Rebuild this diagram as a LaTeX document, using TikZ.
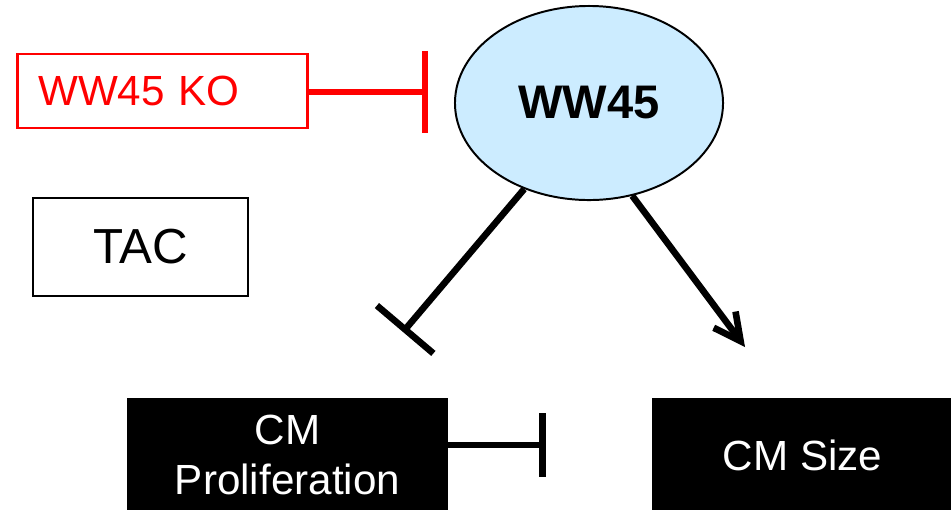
\documentclass[tikz,border=0pt]{standalone}
\usepackage{fontspec}
\setmainfont{Liberation Sans}
\usetikzlibrary{arrows.meta, shapes.geometric}
\definecolor{lightblue}{RGB}{204,236,255}

\begin{document}
\begin{tikzpicture}[
  x=0.025cm, y=-0.025cm,
  kobox/.style={draw=red, line width=2pt, text=red, inner sep=0, inner xsep=0.52cm,
    text width=6.21cm, align=left, minimum height=1.85cm, font=\fontsize{30}{36}\selectfont},
  tacbox/.style={draw, line width=1pt, inner sep=0, minimum width=5.375cm,
    minimum height=2.45cm, font=\fontsize{35}{42}\selectfont},
  gene/.style={draw, ellipse, fill=lightblue, line width=1.4pt, inner sep=0,
    minimum width=6.7cm, minimum height=4.85cm, font=\fontsize{33.5}{40}\bfseries},
  cmbox/.style={fill=black, text=white, inner sep=0, minimum height=2.85cm,
    align=center, font=\fontsize{30}{36}\selectfont},
  inhibit/.style={-{Bar[width=#1]}, line width=4.7pt},
  arrow/.style={-{Straight Barb[length=0.67cm, width=0.68cm]}, line width=4.7pt}
]
\useasboundingbox (0,0) rectangle (951,509);

\node[kobox, anchor=west] (ko) at (16,91) {WW45 KO};
\node[tacbox] (tac) at (140.5,247) {TAC};
\node[gene] (ww45) at (589,103) {WW45};
\node[cmbox, minimum width=8.025cm] (prolif) at (287.5,455) {CM\\Proliferation};
\node[cmbox, minimum width=7.5cm] (size) at (802.5,455) {CM Size};

\coordinate (koBar) at (428,92);
\coordinate (prolifBar) at (403,332);
\coordinate (sizeTip) at (745,347);
\coordinate (sizeBar) at (546,445);

% WW45 KO
\draw[inhibit=2.05cm, draw=red, line width=4.4pt] (ko.east |- koBar) -- (koBar);

% WW45 targets
\draw[inhibit=1.85cm] (ww45.-127) -- (prolifBar);
\draw[arrow] (ww45.-65) -- (sizeTip);

% Proliferation vs size
\draw[inhibit=1.6cm] (prolif.east |- sizeBar) -- (sizeBar);
\end{tikzpicture}
\end{document}
